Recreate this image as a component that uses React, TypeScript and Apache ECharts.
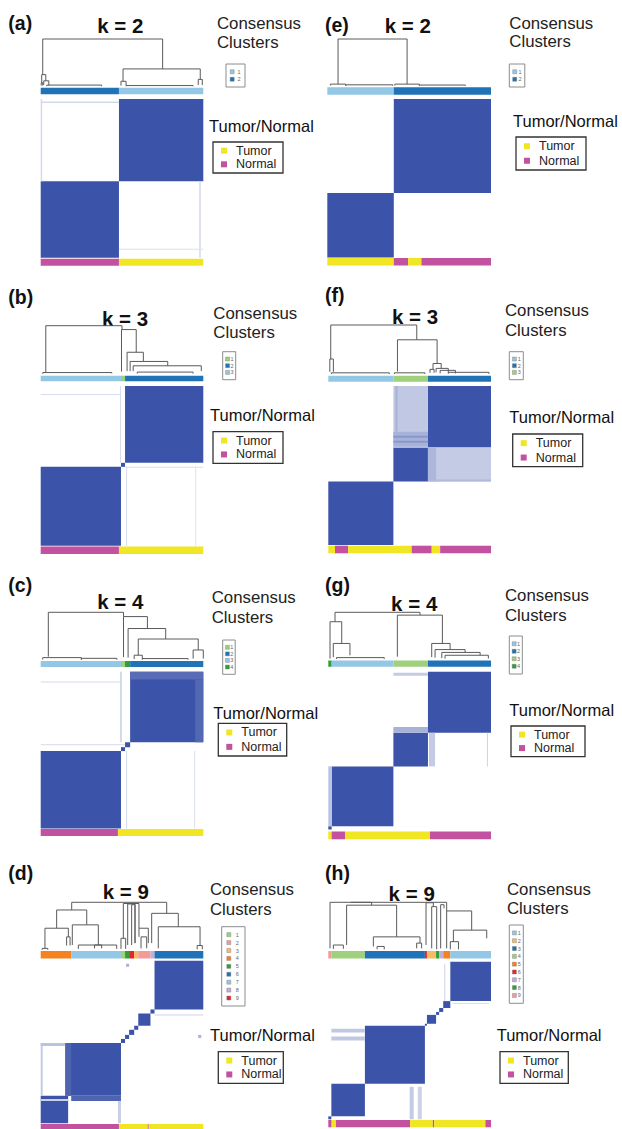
import React, { useEffect, useRef } from "react";
import * as echarts from "echarts";

// ---------- DATA (sample index units, 160 samples per panel) ----------
const N = 160;

// dendrogram merges: [xLeft, xRight, height, leftChildHeight, rightChildHeight]
const A_TREE = [
  [2, 120, 1.0, 0.25, 0.37], [81, 157, 0.37, 0.11, 0.15], [1, 5, 0.25, 0.08, 0.12],
  [3, 8, 0.12, 0.03, 0.02], [0.5, 2, 0.08, 0.02, 0.02], [6, 60, 0.03, 0.005, 0.005],
  [79, 84, 0.11, 0.02, 0.02], [155, 159, 0.15, 0.03, 0.03], [84, 150, 0.02, 0.005, 0.005],
];
const E_TREE = [
  [10.5, 78, 1.0, 0.04, 0.04], [3, 18, 0.04, 0.01, 0.01], [18, 64, 0.025, 0.005, 0.005],
  [66, 90, 0.04, 0.01, 0.01], [90, 135, 0.02, 0.005, 0.005],
];
const B_TREE = [
  [5, 80, 1.0, 0.03, 0.92], [79.5, 94, 0.92, 0.05, 0.45], [85, 101, 0.45, 0.06, 0.26],
  [88, 125, 0.26, 0.06, 0.17], [91, 158, 0.17, 0.06, 0.06], [2, 70, 0.03, 0.005, 0.01],
  [95, 150, 0.04, 0.01, 0.01],
];
const F_TREE = [
  [2.4, 87, 1.0, 0.31, 0.7], [68, 107, 0.7, 0.055, 0.22], [1.5, 5, 0.31, 0.05, 0.05],
  [103, 111, 0.22, 0.1, 0.12], [106, 118, 0.12, 0.04, 0.04], [100, 104, 0.1, 0.03, 0.03],
  [110, 125, 0.08, 0.02, 0.02], [118, 158, 0.04, 0.01, 0.01], [3, 60, 0.03, 0.005, 0.005],
  [65, 95, 0.03, 0.005, 0.005],
];
const C_TREE = [
  [7.5, 81.5, 1.0, 0.07, 0.91], [81.5, 105, 0.91, 0.06, 0.66], [86, 123, 0.66, 0.05, 0.44],
  [96, 155, 0.44, 0.1, 0.21], [92, 100, 0.1, 0.02, 0.02], [150, 160, 0.21, 0.03, 0.03],
  [2, 40, 0.05, 0.01, 0.01], [40, 75, 0.035, 0.005, 0.005], [100, 145, 0.03, 0.005, 0.005],
];
const G_TREE = [
  [6.6, 90.2, 1.0, 0.8, 0.94], [1.7, 13.2, 0.8, 0.02, 0.34], [4.9, 21.3, 0.34, 0.05, 0.09],
  [67.9, 112.2, 0.94, 0.06, 0.34], [101.7, 119.8, 0.34, 0.05, 0.21], [105, 134.5, 0.21, 0.04, 0.15],
  [111.6, 149.3, 0.15, 0.03, 0.09], [114.8, 157.4, 0.09, 0.02, 0.02], [8, 55, 0.04, 0.01, 0.01],
];
const D_TREE = [
  [30.5, 124, 1.0, 0.84, 0.77], [15.7, 45.3, 0.84, 0.46, 0.53], [4.2, 27.2, 0.46, 0.04, 0.28],
  [25.5, 28.9, 0.28, 0.1, 0.1], [31.1, 56.7, 0.53, 0.11, 0.11], [37, 74.8, 0.11, 0.03, 0.03],
  [53, 60, 0.11, 0.04, 0.04], [1.5, 7, 0.04, 0.01, 0.01], [81.3, 96.7, 0.975, 0.25, 0.46],
  [85.6, 92.8, 0.965, 0.11, 0.15], [89.5, 92.8, 0.95, 0.11, 0.15], [79, 83.6, 0.25, 0.03, 0.03],
  [96.7, 105.9, 0.46, 0.28, 0.15], [98.7, 104.3, 0.28, 0.04, 0.04], [109.2, 135.4, 0.77, 0.15, 0.49],
  [115.7, 156.8, 0.49, 0.04, 0.1], [154, 159, 0.1, 0.02, 0.02],
];
const H_TREE = [
  [1.7, 42.6, 1.0, 0.04, 0.94], [22, 116.4, 1.0, 1.0, 0.82], [18, 67.2, 0.94, 0.11, 0.28],
  [5, 14.8, 0.11, 0.03, 0.03], [44.3, 90.2, 0.28, 0.08, 0.15], [86.9, 91.8, 0.15, 0.04, 0.04],
  [48, 55, 0.08, 0.02, 0.02], [96.1, 103.3, 0.99, 0.11, 0.91], [101.7, 106.6, 0.91, 0.04, 0.02],
  [110.5, 113.8, 0.95, 0.04, 0.875], [116.4, 141, 0.82, 0.04, 0.42], [123, 155.8, 0.42, 0.18, 0.25],
  [120, 128, 0.18, 0.02, 0.02],
];

// consensus matrix cells: [colStart, colEnd, rowStart, rowEnd, consensus]
const A_CELLS = [
  [0, 77, 0, 77, 1], [77, 160, 77, 160, 1],
  [0, 1.5, 77, 160, 0.22], [0, 77, 156, 157.5, 0.22], [156, 157.5, 0, 77, 0.22], [77, 160, 8, 9, 0.18],
];
const E_CELLS = [[0, 65, 0, 65, 1], [65, 160, 65, 160, 1]];
const B_CELLS = [
  [0, 79, 0, 79, 1], [79, 83, 79, 83, 1], [83, 160, 83, 160, 1],
  [0, 79, 151, 152, 0.2], [78, 79, 83, 160, 0.2], [84, 85, 0, 79, 0.2], [152, 153, 0, 79, 0.16],
  [83, 160, 78, 79, 0.2],
];
const F_CELLS = [
  [0, 64, 0, 64, 1], [64, 98, 64, 98, 1], [98, 160, 98, 160, 1],
  [64, 98, 98, 160, 0.32], [64, 98, 99, 114, 0.45], [64, 98, 103, 105, 0.6], [64, 98, 108, 110, 0.6],
  [66, 68, 114, 160, 0.45], [98, 160, 64, 98, 0.3], [98, 106, 64, 98, 0.42], [98, 160, 64, 66, 0.4],
];
const C_CELLS = [
  [0, 79, 0, 79, 1], [79, 83, 79, 83, 1], [83, 88, 83, 88, 1], [88, 160, 88, 160, 1],
  [88, 160, 152, 160, 0.85], [152, 160, 88, 152, 0.88], [0, 79, 149, 150, 0.22], [0, 83, 85, 86, 0.22],
  [84, 85, 0, 79, 0.22], [151, 152, 0, 79, 0.18], [78, 80, 88, 160, 0.22],
];
const G_CELLS = [
  [0, 3.3, 0, 3.3, 1], [3.3, 64, 3.3, 64, 1], [64, 98, 64, 98, 1], [98, 160, 98, 160, 1],
  [64, 98, 98, 104, 0.45], [64, 98, 156, 159, 0.3], [99, 105, 64, 98, 0.3], [156, 157, 64, 98, 0.25],
  [0, 3.3, 3.3, 64, 0.35],
];
const D_CELLS = [
  [0, 27, 0, 27, 1], [27, 79, 27, 79, 1], [24, 30, 27, 79, 0.9], [30, 79, 22, 27, 0.9],
  [0, 2, 27, 79, 0.3], [0, 24, 76, 79, 0.35], [76, 79, 0, 22, 0.28], [0, 27, 22, 24, 0.28],
  [79, 83, 79, 83, 1], [83, 87, 83, 87, 1], [87, 92, 87, 92, 1], [92, 96, 92, 96, 1],
  [96, 108, 96, 108, 1], [108, 112, 108, 112, 1], [112, 160, 112, 160, 1],
  [84, 87, 154, 157, 0.45], [155, 158, 84, 87, 0.45], [112, 160, 106, 107, 0.25],
];
const H_CELLS = [
  [0, 3, 0, 3, 1], [3, 36, 3, 36, 1], [36, 95, 36, 95, 1], [95, 97, 95, 97, 1], [97, 106, 97, 106, 1],
  [106, 109, 106, 109, 1], [109, 113, 109, 113, 1], [113, 120, 113, 120, 1], [120, 160, 120, 160, 1],
  [3, 36, 88, 92, 0.32], [3, 36, 80, 84, 0.32], [80, 84, 0, 33, 0.3], [88, 92, 0, 33, 0.26],
  [114, 115, 120, 158, 0.25], [122, 158, 117, 118, 0.2],
];

// cluster membership bar: [start, end, clusterColour]
const A_CLUSTERS = [[0, 77, "darkblue"], [77, 160, "lightblue"]];
const E_CLUSTERS = [[0, 65, "lightblue"], [65, 160, "darkblue"]];
const B_CLUSTERS = [[0, 79, "lightblue"], [79, 83, "lightgreen"], [83, 160, "darkblue"]];
const F_CLUSTERS = [[0, 64, "lightblue"], [64, 98, "lightgreen"], [98, 160, "darkblue"]];
const C_CLUSTERS = [[0, 79, "lightblue"], [79, 83, "lightgreen"], [83, 88, "green"], [88, 160, "darkblue"]];
const G_CLUSTERS = [[0, 3.3, "green"], [3.3, 64, "lightblue"], [64, 98, "lightgreen"], [98, 160, "darkblue"]];
const D_CLUSTERS = [
  [0, 30, "orange"], [30, 79, "lightblue"], [79, 83, "lightgreen"], [83, 87, "green"], [87, 92, "red"],
  [92, 96, "lightorange"], [96, 108, "salmon"], [108, 112, "purple"], [112, 160, "darkblue"],
];
const H_CLUSTERS = [
  [0, 3, "salmon"], [3, 36, "lightgreen"], [36, 95, "darkblue"], [95, 97, "red"], [97, 106, "lightorange"],
  [106, 109, "green"], [109, 113, "purple"], [113, 120, "orange"], [120, 160, "lightblue"],
];

// tumor / normal bar: [start, end, tissue]
const A_TISSUE = [[0, 77, "Normal"], [77, 160, "Tumor"]];
const E_TISSUE = [[0, 65, "Tumor"], [65, 79, "Normal"], [79, 92, "Tumor"], [92, 160, "Normal"]];
const B_TISSUE = [[0, 77, "Normal"], [77, 160, "Tumor"]];
const F_TISSUE = [[0, 6.6, "Tumor"], [6.6, 19.5, "Normal"], [19.5, 82, "Tumor"], [82, 101.7, "Normal"], [101.7, 110, "Tumor"], [110, 160, "Normal"]];
const C_TISSUE = [[0, 76, "Normal"], [76, 160, "Tumor"]];
const G_TISSUE = [[0, 3.3, "Tumor"], [3.3, 16.4, "Normal"], [16.4, 100, "Tumor"], [100, 160, "Normal"]];
const D_TISSUE = [[0, 77, "Normal"], [77, 105.3, "Tumor"], [105.3, 106.3, "Normal"], [106.3, 160, "Tumor"]];
const H_TISSUE = [[0, 3.3, "Normal"], [3.3, 7.5, "Tumor"], [7.5, 80.5, "Normal"], [80.5, 102.8, "Tumor"], [102.8, 104.2, "Normal"], [104.2, 154.5, "Tumor"], [154.5, 160, "Normal"]];

// consensus cluster legend colours (cluster 1..k)
const A_KEYS = ["lightblue", "darkblue"];
const E_KEYS = ["lightblue", "darkblue"];
const B_KEYS = ["lightgreen", "darkblue", "lightblue"];
const F_KEYS = ["lightblue", "darkblue", "lightgreen"];
const C_KEYS = ["lightgreen", "darkblue", "lightblue", "green"];
const G_KEYS = ["lightblue", "darkblue", "lightgreen", "green"];
const D_KEYS = ["lightgreen", "salmon", "lightorange", "orange", "green", "darkblue", "lightblue", "purple", "red"];
const H_KEYS = ["lightblue", "lightorange", "darkblue", "lightgreen", "orange", "red", "purple", "green", "salmon"];

const TISSUE_NAMES = ["Tumor", "Normal"];

// ---------- STYLES ----------
const COLORS: Record<string, string> = {
  lightblue: "#93c7e6",
  darkblue: "#2073b6",
  lightgreen: "#9fd17c",
  green: "#2f9f3b",
  salmon: "#f29b99",
  red: "#e2262b",
  lightorange: "#f8bb62",
  orange: "#f5821f",
  purple: "#c5acd5",
  Tumor: "#f0e624",
  Normal: "#c2519f",
};
const MATRIX_BLUE = "#3b53a8";
const TREE_COLOR = "#5a5a5a";
const FONT = '"Liberation Sans", Arial, Helvetica, sans-serif';

// ---------- LAYOUT (pixels) ----------
const LAYOUTS = {
  a: { lab: [8.3, 23], title: [120.3, 25.3], dendro: [39, 86.5], cbar: [87.7, 94.3], mx: [40.7, 203.3], my: [99, 257.7], tbar: [258.7, 265.7], cons: [217, 23.7, 42.3], cc: [226, 64, 19, 23], tn: [209, 125.8], tnBox: [213, 142, 70, 31] },
  e: { lab: [325, 25], title: [407.8, 25.3], dendro: [39, 86], cbar: [87.3, 94.7], mx: [327.3, 491], my: [99, 257.5], tbar: [258, 265.5], cons: [509.3, 23.3, 41.7], cc: [509.3, 64, 15.5, 23], tn: [513, 121], tnBox: [516, 137, 70, 33] },
  b: { lab: [8.3, 296.7], title: [125, 318.3], dendro: [325.7, 374], cbar: [375.7, 381.3], mx: [40.7, 203.3], my: [386, 545.7], tbar: [546.5, 554], cons: [213.3, 313.3, 332.3], cc: [222.7, 351.7, 13, 28], tn: [210, 415], tnBox: [213, 431.7, 70, 31.6] },
  f: { lab: [325, 295], title: [415, 316.7], dendro: [325, 374.3], cbar: [375.7, 381.7], mx: [328.3, 491], my: [386, 545], tbar: [545.7, 553.3], cons: [505, 310.7, 330.7], cc: [509.3, 351.7, 14, 28], tn: [509.3, 416.7], tnBox: [512.7, 434, 70, 32.7] },
  c: { lab: [8.3, 585], title: [120.3, 601.7], dendro: [612.3, 660], cbar: [661, 667], mx: [40.7, 203.3], my: [671.7, 828.5], tbar: [829, 836], cons: [211.7, 597.3, 617.3], cc: [222.7, 640, 12.5, 34.3], tn: [213.3, 713.3], tnBox: [218.3, 723.3, 68.4, 32.7] },
  g: { lab: [325, 585], title: [414.2, 603.3], dendro: [612.3, 659.5], cbar: [660.5, 666.8], mx: [328.3, 491], my: [671.7, 829.5], tbar: [831.5, 839.3], cons: [505, 595, 615], cc: [509.3, 636, 13, 38], tn: [509.3, 710], tnBox: [511, 726, 74, 30.7] },
  d: { lab: [8.3, 873.3], title: [125.8, 891.7], dendro: [902.3, 950.3], cbar: [951, 958.5], mx: [40.7, 203.3], my: [960.7, 1123.3], tbar: [1124, 1131], cons: [210, 889.3, 909], cc: [221.7, 926.7, 23.3, 79.3], tn: [210, 1035], tnBox: [218.3, 1051.7, 65, 31.6] },
  h: { lab: [325, 873.3], title: [411.7, 893.3], dendro: [902.3, 950.3], cbar: [951, 958.5], mx: [328.3, 491], my: [961.7, 1119.3], tbar: [1120, 1127.3], cons: [507, 889.3, 908.3], cc: [509.3, 925, 14, 78.3], tn: [496.7, 1035], tnBox: [500, 1051.7, 68.3, 31.6] },
};

const PANELS = [
  { label: "(a)", k: 2, tree: A_TREE, cells: A_CELLS, clusters: A_CLUSTERS, tissue: A_TISSUE, keys: A_KEYS, L: LAYOUTS.a },
  { label: "(e)", k: 2, tree: E_TREE, cells: E_CELLS, clusters: E_CLUSTERS, tissue: E_TISSUE, keys: E_KEYS, L: LAYOUTS.e },
  { label: "(b)", k: 3, tree: B_TREE, cells: B_CELLS, clusters: B_CLUSTERS, tissue: B_TISSUE, keys: B_KEYS, L: LAYOUTS.b },
  { label: "(f)", k: 3, tree: F_TREE, cells: F_CELLS, clusters: F_CLUSTERS, tissue: F_TISSUE, keys: F_KEYS, L: LAYOUTS.f },
  { label: "(c)", k: 4, tree: C_TREE, cells: C_CELLS, clusters: C_CLUSTERS, tissue: C_TISSUE, keys: C_KEYS, L: LAYOUTS.c },
  { label: "(g)", k: 4, tree: G_TREE, cells: G_CELLS, clusters: G_CLUSTERS, tissue: G_TISSUE, keys: G_KEYS, L: LAYOUTS.g },
  { label: "(d)", k: 9, tree: D_TREE, cells: D_CELLS, clusters: D_CLUSTERS, tissue: D_TISSUE, keys: D_KEYS, L: LAYOUTS.d },
  { label: "(h)", k: 9, tree: H_TREE, cells: H_CELLS, clusters: H_CLUSTERS, tissue: H_TISSUE, keys: H_KEYS, L: LAYOUTS.h },
];

function boxFromAxes(api: any, x0: number, x1: number, y0: number, y1: number) {
  const a = api.coord([x0, y1]);
  const b = api.coord([x1, y0]);
  return { x: a[0], y: a[1], width: b[0] - a[0], height: b[1] - a[1] };
}

const rectRender = (_p: any, api: any) => ({
  type: "rect",
  shape: boxFromAxes(api, api.value(0), api.value(1), api.value(2), api.value(3)),
  style: { fill: api.visual("color") },
});

const treeRender = (_p: any, api: any) => {
  const xl = api.value(0), xr = api.value(1), h = api.value(2), hl = api.value(3), hr = api.value(4);
  const pts = [[xl, hl], [xl, h], [xr, h], [xr, hr]].map((p) => api.coord(p));
  return { type: "polyline", shape: { points: pts }, style: { stroke: TREE_COLOR, lineWidth: 1, fill: "none" } };
};

function text(x: number, y: number, t: string, size: number, opts: any = {}) {
  const align = opts.align || "left";
  return {
    type: "text",
    x,
    y,
    silent: true,
    style: {
      text: t,
      fontFamily: FONT,
      fontSize: size,
      fontWeight: opts.bold ? "bold" : "normal",
      fill: opts.color || "#111",
      align,
      textAlign: align,
      verticalAlign: "middle",
      textVerticalAlign: "middle",
    },
  };
}

function buildOption() {
  const grid: any[] = [];
  const xAxis: any[] = [];
  const yAxis: any[] = [];
  const series: any[] = [];
  const graphic: any[] = [];
  const matrixSeries: number[] = [];

  const addGrid = (left: number, width: number, top: number, bottom: number, ymax: number) => {
    const gi = grid.length;
    grid.push({ left, top, width, height: bottom - top, containLabel: false });
    xAxis.push({ type: "value", gridIndex: gi, min: 0, max: N, show: false });
    yAxis.push({ type: "value", gridIndex: gi, min: 0, max: ymax, show: false });
    return gi;
  };

  PANELS.forEach((p) => {
    const L: any = p.L;
    const left = L.mx[0];
    const width = L.mx[1] - L.mx[0];

    const gTree = addGrid(left, width, L.dendro[0], L.dendro[1], 1);
    const gClu = addGrid(left, width, L.cbar[0], L.cbar[1], 1);
    const gMat = addGrid(left, width, L.my[0], L.my[1], N);
    const gTis = addGrid(left, width, L.tbar[0], L.tbar[1], 1);

    series.push({
      type: "custom", xAxisIndex: gTree, yAxisIndex: gTree, silent: true,
      renderItem: treeRender, encode: { x: [0, 1], y: [2, 3, 4] }, data: p.tree,
    });
    series.push({
      type: "custom", xAxisIndex: gClu, yAxisIndex: gClu, silent: true,
      renderItem: rectRender, encode: { x: [0, 1], y: [2, 3] },
      data: p.clusters.map((s: any) => ({ value: [s[0], s[1], 0, 1], itemStyle: { color: COLORS[s[2]] } })),
    });
    matrixSeries.push(series.length);
    series.push({
      type: "custom", xAxisIndex: gMat, yAxisIndex: gMat, silent: true,
      renderItem: rectRender, encode: { x: [0, 1], y: [2, 3] }, data: p.cells,
    });
    series.push({
      type: "custom", xAxisIndex: gTis, yAxisIndex: gTis, silent: true,
      renderItem: rectRender, encode: { x: [0, 1], y: [2, 3] },
      data: p.tissue.map((s: any) => ({ value: [s[0], s[1], 0, 1], itemStyle: { color: COLORS[s[2]] } })),
    });

    // texts
    graphic.push(text(L.lab[0], L.lab[1], p.label, 19.5, { bold: true }));
    graphic.push(text(L.title[0], L.title[1], "k = " + p.k, 20.5, { bold: true, align: "center" }));
    graphic.push(text(L.cons[0], L.cons[1], "Consensus", 16.8, { color: "#222" }));
    graphic.push(text(L.cons[0], L.cons[2], "Clusters", 16.8, { color: "#222" }));

    // consensus cluster legend box
    const [bx, by, bw, bh] = L.cc;
    graphic.push({ type: "rect", silent: true, shape: { x: bx, y: by, width: bw, height: bh }, style: { fill: "#fff", stroke: "#8c8c8c", lineWidth: 1 } });
    const pad = 4;
    const step = (bh - 2 * pad) / p.keys.length;
    p.keys.forEach((key: string, i: number) => {
      const cy = by + pad + (i + 0.5) * step;
      const sq = Math.min(4, step * 0.6);
      graphic.push({ type: "rect", silent: true, shape: { x: bx + bw * 0.22, y: cy - sq / 2, width: sq, height: sq }, style: { fill: COLORS[key], stroke: "#777", lineWidth: 0.4 } });
      graphic.push(text(bx + bw * 0.6, cy, String(i + 1), 5.5, { color: "#666" }));
    });

    // tumor / normal legend
    graphic.push(text(L.tn[0], L.tn[1], "Tumor/Normal", 16.5, { color: "#111" }));
    const [tx, ty, tw, th] = L.tnBox;
    graphic.push({ type: "rect", silent: true, shape: { x: tx, y: ty, width: tw, height: th }, style: { fill: "#fff", stroke: "#333", lineWidth: 1.3 } });
    TISSUE_NAMES.forEach((name, i) => {
      const cy = ty + th * (i === 0 ? 0.28 : 0.72);
      graphic.push({ type: "rect", silent: true, shape: { x: tx + 8, y: cy - 3, width: 6, height: 6 }, style: { fill: COLORS[name] } });
      graphic.push(text(tx + 23, cy, name, 12.5, { color: "#222" }));
    });
  });

  return {
    animation: false,
    backgroundColor: "#ffffff",
    grid,
    xAxis,
    yAxis,
    visualMap: {
      show: false,
      type: "continuous",
      min: 0,
      max: 1,
      dimension: 4,
      seriesIndex: matrixSeries,
      inRange: { color: ["#ffffff", MATRIX_BLUE] },
    },
    series,
    graphic: { elements: graphic },
  };
}

export default function App() {
  const ref = useRef<HTMLDivElement>(null);
  useEffect(() => {
    if (!ref.current) return;
    const chart = echarts.init(ref.current, null, { renderer: "svg" });
    chart.setOption(buildOption() as any);
    return () => chart.dispose();
  }, []);
  return <div ref={ref} style={{ position: "absolute", left: 0, top: 0, width: 622, height: 1129 }} />;
}
